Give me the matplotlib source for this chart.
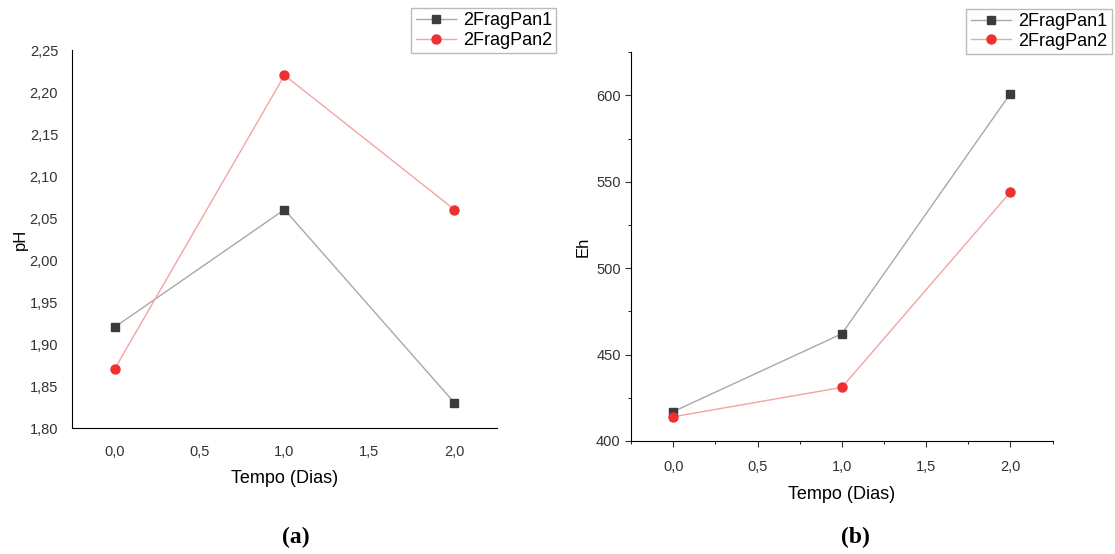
import matplotlib.pyplot as plt
import numpy as np
from matplotlib.ticker import FuncFormatter, MultipleLocator

plt.rcParams["font.family"] = ["Liberation Sans", "DejaVu Sans"]

dias = [0.0, 1.0, 2.0]
ph_pan1 = [1.92, 2.06, 1.83]
ph_pan2 = [1.87, 2.22, 2.06]
eh_pan1 = [417, 462, 601]
eh_pan2 = [414, 431, 544]
series_names = ["2FragPan1", "2FragPan2"]


def comma(fmt):
    return FuncFormatter(lambda v, p: (fmt % v).replace(".", ","))


def draw_panel(ax, y1, y2, ylabel):
    ax.plot(dias, y1, color="#a8a8a8", lw=1.0, marker="s", ms=6,
            mfc="#3c3c3c", mec="#3c3c3c", label=series_names[0])
    ax.plot(dias, y2, color="#f5a3a3", lw=1.0, marker="o", ms=6.5,
            mfc="#ee3030", mec="#ee3030", label=series_names[1])
    ax.spines["top"].set_visible(False)
    ax.spines["right"].set_visible(False)
    ax.set_xlim(-0.25, 2.25)
    ax.xaxis.set_major_locator(MultipleLocator(0.5))
    ax.xaxis.set_major_formatter(comma("%.1f"))
    ax.set_xlabel("Tempo (Dias)", fontsize=13, labelpad=8)
    ax.set_ylabel(ylabel, fontsize=12)
    ax.tick_params(labelsize=10.5, colors="#333333")
    leg = ax.legend(loc="upper right", bbox_to_anchor=(1.14, 1.112), fontsize=13,
                    frameon=True, fancybox=False, edgecolor="#aaaaaa",
                    handlelength=2.2, borderpad=0.25, labelspacing=0.15,
                    handletextpad=0.4, borderaxespad=0)
    leg.get_frame().set_linewidth(1.0)


fig = plt.figure(figsize=(11.15, 5.54), dpi=100)

ax1 = fig.add_axes([0.0646, 0.2274, 0.3811, 0.6823])
draw_panel(ax1, ph_pan1, ph_pan2, "pH")
ax1.set_ylim(1.80, 2.25)
ax1.yaxis.set_major_locator(MultipleLocator(0.05))
ax1.yaxis.set_major_formatter(comma("%.2f"))
ax1.tick_params(axis="y", length=0, pad=10)
ax1.tick_params(axis="x", length=0, pad=12)
ax1.yaxis.labelpad = 1

ax2 = fig.add_axes([0.566, 0.204, 0.378, 0.702])
draw_panel(ax2, eh_pan1, eh_pan2, "Eh")
ax2.set_ylim(400, 625)
ax2.yaxis.set_major_locator(MultipleLocator(50))
ax2.yaxis.set_minor_locator(MultipleLocator(25))
ax2.xaxis.set_minor_locator(MultipleLocator(0.25))
ax2.yaxis.set_major_formatter(FuncFormatter(lambda v, p: "%d" % v))
ax2.tick_params(which="major", length=4, direction="out")
ax2.tick_params(which="minor", length=2.5, direction="out")
ax2.tick_params(axis="x", which="major", pad=10)

fig.text(0.265, 0.02, "(a)", fontsize=17, fontweight="bold",
         family="Liberation Serif", ha="center")
fig.text(0.767, 0.02, "(b)", fontsize=17, fontweight="bold",
         family="Liberation Serif", ha="center")

fig.savefig("out.png", dpi=100)
